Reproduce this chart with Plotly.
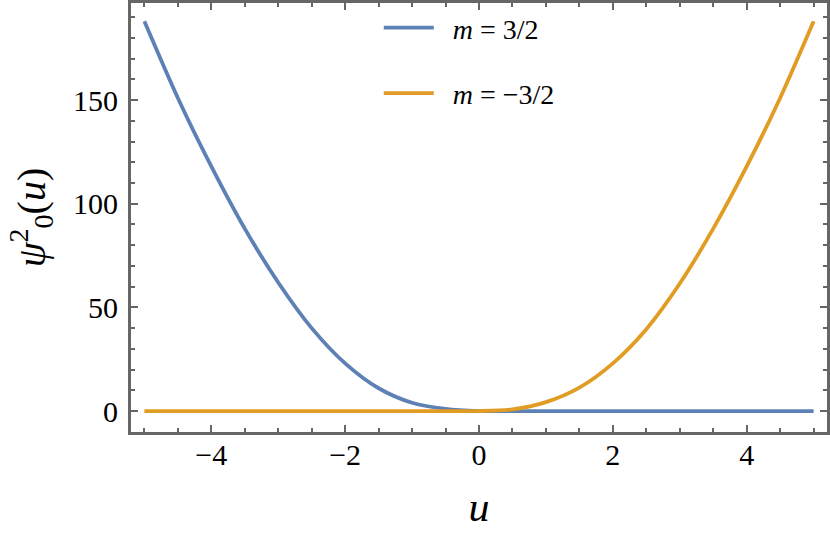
import plotly.graph_objects as go

# Data
u_vals = [-5.0, -4.5, -4.0, -3.5, -3.0, -2.5, -2.0, -1.5, -1.0, -0.5, 0.0,
          0.5, 1.0, 1.5, 2.0, 2.5, 3.0, 3.5, 4.0, 4.5, 5.0]
psi_m_pos = [188, 151, 118, 88, 62, 40, 23, 11, 4, 1, 0,
             0, 0, 0, 0, 0, 0, 0, 0, 0, 0]
psi_m_neg = [0, 0, 0, 0, 0, 0, 0, 0, 0, 0, 0,
             0.8, 4.3, 11.3, 23, 39.5, 61.5, 88, 118, 151, 188]
series_names = ["\u2002<i>m</i> = 3/2", "\u2002<i>m</i> = −3/2"]
x_ticks = [-4, -2, 0, 2, 4]
y_ticks = [0, 50, 100, 150]

BLUE = "#5E81B5"
ORANGE = "#E19C24"
FRAME = "#666666"
SERIF = "Liberation Serif"

fig = go.Figure()
fig.add_trace(go.Scatter(x=u_vals, y=psi_m_pos, mode="lines", name=series_names[0],
                         line=dict(color=BLUE, width=3.8, shape="spline", smoothing=0.8),
                         legendgroup="a"))
fig.add_trace(go.Scatter(x=u_vals, y=psi_m_neg, mode="lines", name=series_names[1],
                         line=dict(color=ORANGE, width=3.8, shape="spline", smoothing=0.8),
                         legendgroup="b"))

axis_common = dict(showgrid=False, zeroline=False, showline=True, linecolor=FRAME,
                   linewidth=3, mirror="ticks", ticks="inside", tickcolor=FRAME,
                   tickwidth=2, ticklen=7, automargin=False,
                   tickfont=dict(family=SERIF, size=30, color="black"))

fig.update_xaxes(range=[-5.2, 5.2], tickvals=x_ticks, ticklabelstandoff=-6,
                 minor=dict(dtick=0.5, tick0=0, ticks="inside", ticklen=4,
                            tickwidth=2, tickcolor=FRAME),
                 title=dict(text="<i>u</i>", font=dict(family=SERIF, size=42, color="black"),
                            standoff=22),
                 **axis_common)
fig.update_yaxes(range=[-10.1, 196.8], tickvals=y_ticks, ticklabelstandoff=4,
                 minor=dict(dtick=10, tick0=0, ticks="inside", ticklen=4,
                            tickwidth=2, tickcolor=FRAME),
                 title=dict(text="<i>ψ</i><sup>2</sup><sub>0</sub>(<i>u</i>)",
                            font=dict(family=SERIF, size=40, color="black"), standoff=16),
                 **axis_common)

fig.update_layout(
    width=830, height=548,
    margin=dict(l=131, r=3, t=3, b=116),
    paper_bgcolor="white", plot_bgcolor="white",
    showlegend=True,
    legend=dict(x=0.356, y=1.0, xanchor="left", yanchor="top",
                bgcolor="rgba(0,0,0,0)", tracegroupgap=26, itemwidth=50,
                font=dict(family=SERIF, size=28, color="black")),
)

fig.write_html("out.html", config={"displayModeBar": False},
               post_script="document.body.style.margin='0';document.body.style.overflow='hidden';")
